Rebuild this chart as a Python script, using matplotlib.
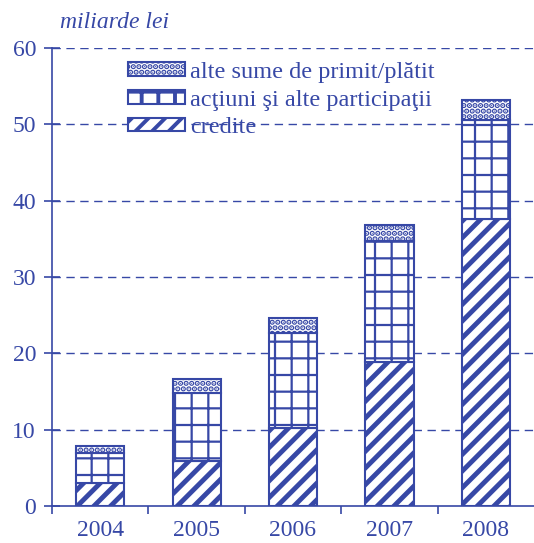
import matplotlib
matplotlib.use("Agg")
import matplotlib.pyplot as plt
import numpy as np

years = ["2004", "2005", "2006", "2007", "2008"]
credite = [3.0, 5.9, 10.2, 18.9, 37.6]
actiuni = [3.9, 8.9, 12.5, 15.8, 13.0]
alte = [1.0, 1.8, 1.9, 2.1, 2.6]
yticks = [0, 10, 20, 30, 40, 50, 60]

BLUE = "#3748a6"
plt.rcParams['font.family'] = ['Liberation Serif', 'DejaVu Serif']
plt.rcParams['hatch.color'] = BLUE

fig = plt.figure(figsize=(5.34, 5.43), dpi=100)
ax = fig.add_axes([52/534, 1-506/543, 1-52/534, (506-48)/543])

x = np.arange(len(years))
w = 0.5

def bars(bottom, vals, hatch, hlw):
    plt.rcParams['hatch.linewidth'] = hlw
    bc = ax.bar(x, vals, w, bottom=bottom, facecolor="white", edgecolor=BLUE,
                hatch=hatch, linewidth=1.5, zorder=3)
    for p in bc:
        if hasattr(p, "set_hatch_linewidth"):
            p.set_hatch_linewidth(hlw)
    return bc

b1 = bars(0, credite, "//", 3.5)
bot2 = np.array(credite)
b2 = bars(bot2, actiuni, "+", 1.6)
bot3 = bot2 + np.array(actiuni)
b3 = bars(bot3, alte, "...", 2.8)

ax.set_xlim(-0.5, 4.5)
ax.set_ylim(0, 60)
ax.set_yticks(yticks)
ax.set_yticklabels([str(t) for t in yticks], fontsize=17, color=BLUE)
ax.set_xticks(x)
ax.set_xticklabels(years, fontsize=17, color=BLUE)
ax.set_xticks(np.arange(-0.5, 4.0, 1.0), minor=True)
ax.tick_params(axis='x', which='major', length=0, pad=10)
ax.tick_params(axis='x', which='minor', length=6, width=1.2, color=BLUE, direction='out')
ax.tick_params(axis='y', length=11, width=1.2, color=BLUE, direction='inout', pad=6)

for t in yticks[1:]:
    ax.axhline(t, color=BLUE, linestyle=(0, (6, 4)), linewidth=1.0, zorder=1)

for s in ['top', 'right']:
    ax.spines[s].set_visible(False)
for s in ['left', 'bottom']:
    ax.spines[s].set_color(BLUE)
    ax.spines[s].set_linewidth(1.2)

fig.text(60/534, 1-22/543, "miliarde lei", fontsize=17, style='italic',
         color=BLUE, va='center', ha='left')

leg = ax.legend([b3[0], b2[0], b1[0]],
                ["alte sume de primit/plătit", "acţiuni şi alte participaţii", "credite"],
                loc='upper left', bbox_to_anchor=(128/534, 1-62/543),
                bbox_transform=fig.transFigure, frameon=False, fontsize=17.5,
                handlelength=2.35, handleheight=0.5, handletextpad=0.2,
                labelspacing=0.27, borderpad=0, borderaxespad=0)
for t in leg.get_texts():
    t.set_color(BLUE)

fig.savefig("out.png", dpi=100)
